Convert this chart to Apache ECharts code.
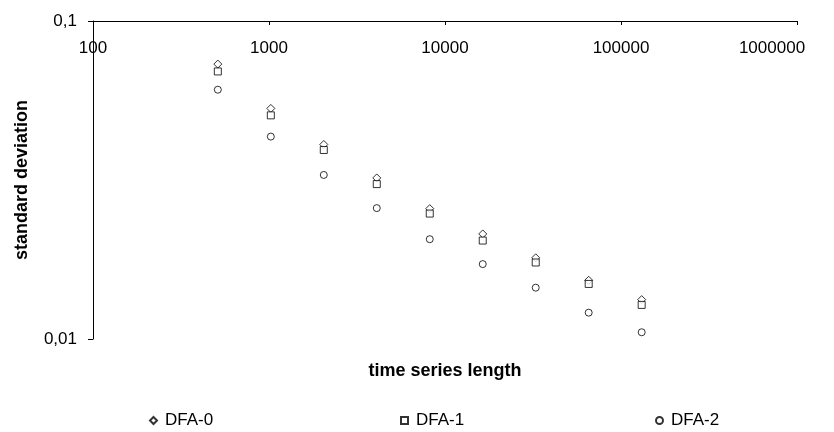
<!DOCTYPE html>
<html>
<head>
<meta charset="utf-8">
<script src="https://cdn.jsdelivr.net/npm/echarts@6/dist/echarts.min.js"></script>
<style>
  html, body { margin: 0; padding: 0; background: #fff; }
  #chart { width: 834px; height: 432px; }
</style>
</head>
<body>
<div id="chart"></div>
<script>
// time series lengths (2^9 .. 2^17)
const lengths = [512, 1024, 2048, 4096, 8192, 16384, 32768, 65536, 131072];
// standard deviation per method
const dfa0 = [0.0732, 0.0531, 0.0409, 0.0321, 0.0257, 0.0214, 0.0180, 0.0153, 0.0133];
const dfa1 = [0.0694, 0.0505, 0.0393, 0.0307, 0.0248, 0.0204, 0.0174, 0.0149, 0.0128];
const dfa2 = [0.0608, 0.0433, 0.0328, 0.0258, 0.0206, 0.0172, 0.0145, 0.0121, 0.0105];
const seriesNames = ['DFA-0', 'DFA-1', 'DFA-2'];
const xTicks = [100, 1000000];   // axis range
const yTicks = [0.01, 0.1];

const FONT = 'Arial, "Liberation Sans", sans-serif';
const pts = (ys) => lengths.map((x, i) => [x, ys[i]]);

const chart = echarts.init(document.getElementById('chart'));

const markerStyle = { color: '#fff', borderColor: '#000', borderWidth: 1 };

// one legend per item so that the three entries sit evenly spread
const legendLeft = [149, 400, 655];

chart.setOption({
    animation: false,
    backgroundColor: '#fff',
    grid: { left: 93, right: 37, top: 21, bottom: 93 },
    legend: seriesNames.map((n, i) => ({
        data: [n],
        left: legendLeft[i],
        top: 412,
        padding: 0,
        itemWidth: 7,
        itemHeight: 7,
        textStyle: { fontFamily: FONT, fontSize: 17, color: '#000', padding: [0, 0, 0, 3] },
    })),
    xAxis: {
        type: 'log',
        logBase: 10,
        min: xTicks[0],
        max: xTicks[1],
        position: 'top',
        axisLine: { lineStyle: { color: '#000', width: 1 } },
        axisTick: { inside: true, length: 4, lineStyle: { color: '#000' } },
        splitLine: { show: false },
        minorTick: { show: false },
        axisLabel: {
            inside: true,
            margin: 19,
            color: '#000',
            fontFamily: FONT,
            fontSize: 17,
            formatter: (v) => v >= 1000000 ? '{last|' + v + '}' : String(v),
            rich: { last: { fontFamily: FONT, fontSize: 17, color: '#000', padding: [0, 50, 0, 0] } },
        },
    },
    yAxis: {
        type: 'log',
        logBase: 10,
        min: yTicks[0],
        max: yTicks[1],
        name: 'standard deviation',
        nameLocation: 'middle',
        nameRotate: 90,
        nameGap: 62,
        nameTextStyle: { fontFamily: FONT, fontSize: 18, fontWeight: 'bold', color: '#000' },
        axisLine: { show: true, lineStyle: { color: '#000', width: 1 } },
        axisTick: { show: true, length: 5, lineStyle: { color: '#000' } },
        splitLine: { show: false },
        axisLabel: {
            margin: 16,
            color: '#000',
            fontFamily: FONT,
            fontSize: 17,
            formatter: (v) => String(+v.toPrecision(6)).replace('.', ','),
        },
    },
    graphic: [{
        type: 'text',
        x: 445,
        y: 371,
        style: {
            text: 'time series length',
            fontFamily: FONT,
            fontSize: 18,
            fontWeight: 'bold',
            fill: '#000',
            align: 'center',
            verticalAlign: 'middle',
        },
    }],
    series: [
        { name: seriesNames[0], type: 'scatter', symbol: 'diamond', symbolSize: 8, itemStyle: markerStyle, data: pts(dfa0) },
        { name: seriesNames[1], type: 'scatter', symbol: 'rect', symbolSize: 7, itemStyle: markerStyle, data: pts(dfa1) },
        { name: seriesNames[2], type: 'scatter', symbol: 'circle', symbolSize: 7, itemStyle: markerStyle, data: pts(dfa2) },
    ],
});
</script>
</body>
</html>
